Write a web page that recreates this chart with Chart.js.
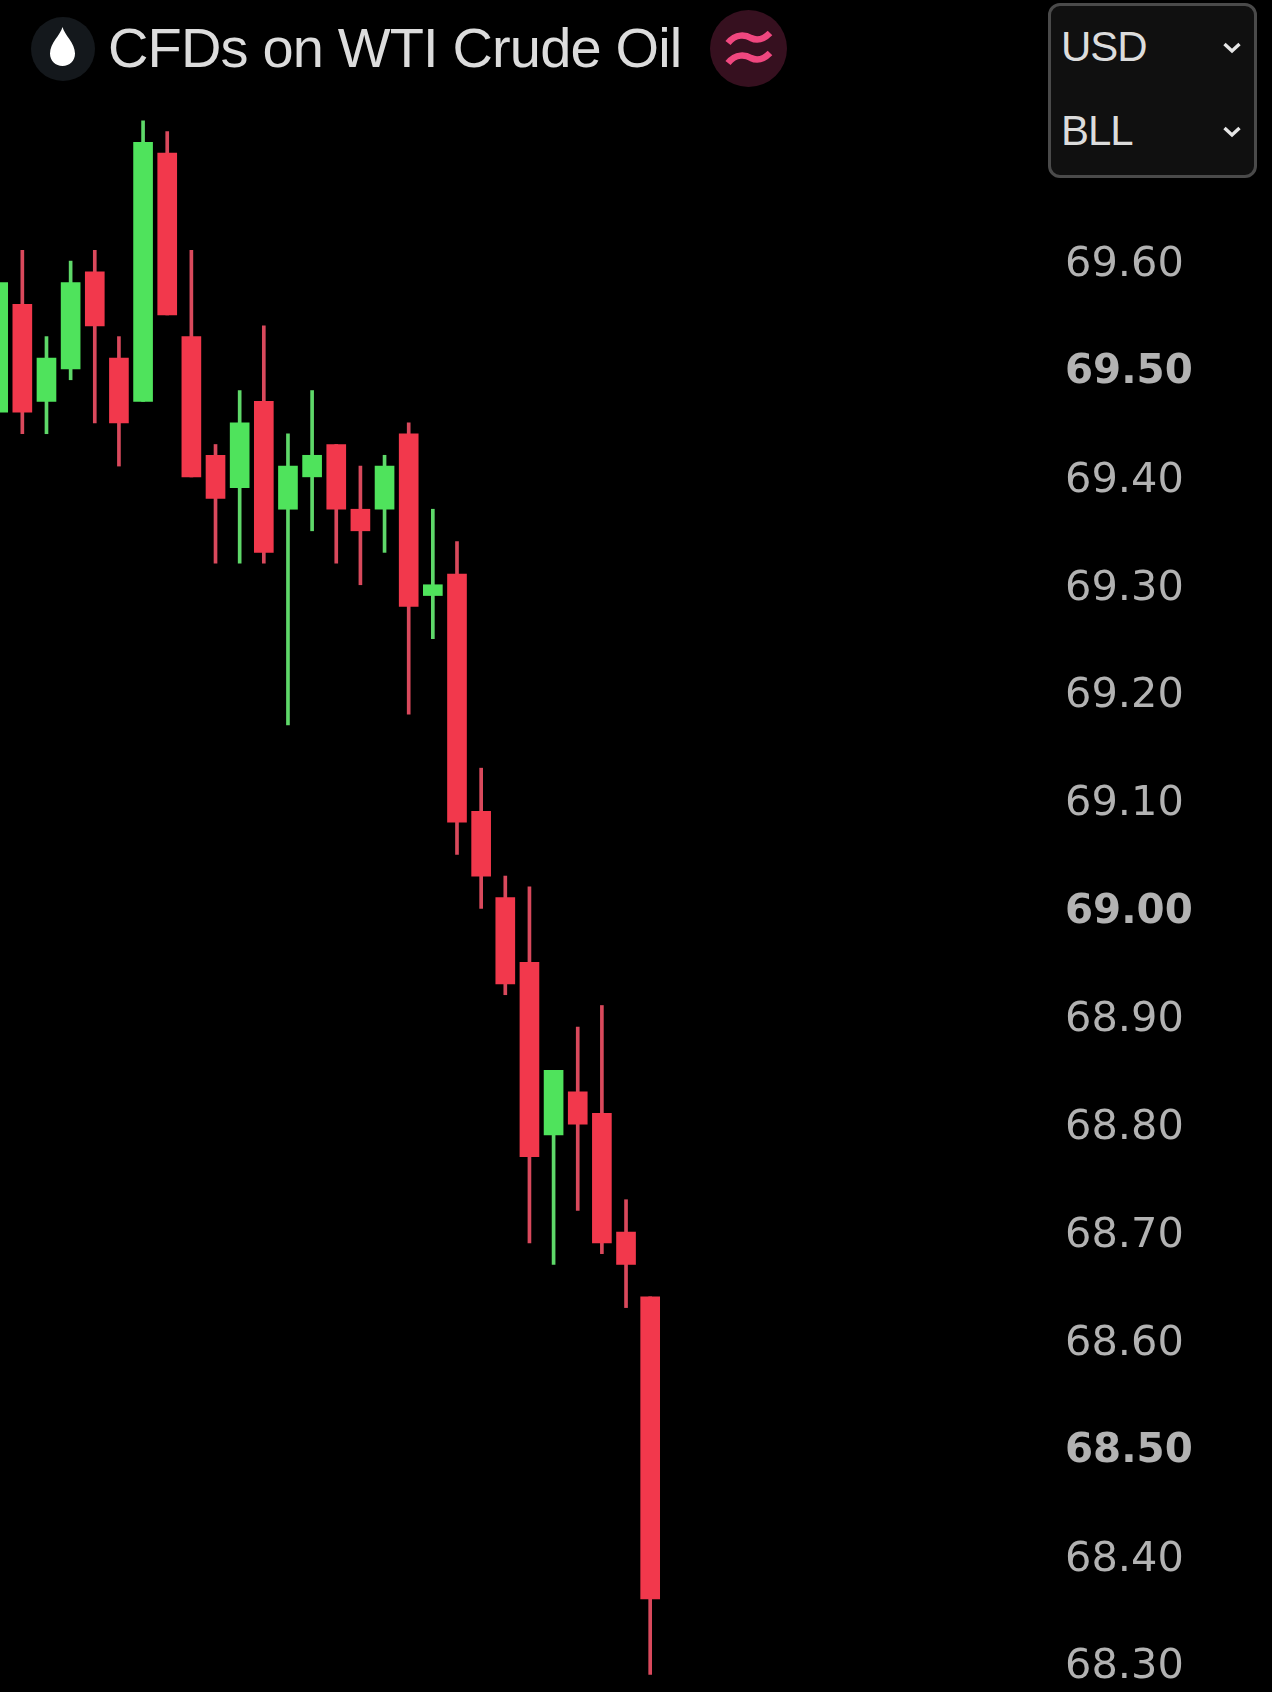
<!DOCTYPE html>
<html>
<head>
<meta charset="utf-8">
<script src="https://cdn.jsdelivr.net/npm/chart.js@4"></script>
<style>
  html, body { margin: 0; background: #000; }
  #wrap { position: relative; width: 1272px; height: 1692px; overflow: hidden; }
  #myChart { position: absolute; left: 0; top: 0; }
  .title { position: absolute; left: 108px; top: 14px; font: 56px/68px "Liberation Sans", sans-serif; letter-spacing: -0.85px; color: #dcdcdc; white-space: nowrap; }
  .icon { position: absolute; border-radius: 50%; }
  .menu { position: absolute; left: 1048px; top: 3px; width: 203px; height: 169px; background: #101010; border: 3px solid #4a4a4a; border-radius: 12px; }
  .menu span { position: absolute; left: 10px; font: 42px/50px "Liberation Sans", sans-serif; letter-spacing: -1px; color: #dcdcdc; }
  .menu svg { position: absolute; left: 171px; }
</style>
</head>
<body>
<div id="wrap">
  <canvas id="myChart" width="1272" height="1692"></canvas>

  <!-- header -->
  <div class="icon" style="left:31px;top:17px;width:64px;height:64px;background:#14181c"></div>
  <svg style="position:absolute;left:50px;top:27px" width="25" height="39" viewBox="0 0 25 39">
    <path d="M12.5 0 C14.5 8 25 16 25 26.5 C25 34 19.5 39 12.5 39 C5.5 39 0 34 0 26.5 C0 16 10.5 8 12.5 0Z" fill="#fff"/>
  </svg>
  <div class="title">CFDs on WTI Crude Oil</div>
  <div class="icon" style="left:710px;top:10px;width:77px;height:77px;background:#36101f"></div>
  <svg style="position:absolute;left:724px;top:28px" width="50" height="42" viewBox="0 0 50 42">
    <path d="M4 15 C12 5 22 7 27 10 C33 13 39 12 46 5 M4 35 C12 25 22 27 27 30 C33 33 39 32 46 25" fill="none" stroke="#f0477f" stroke-width="6.5"/>
  </svg>

  <!-- currency / unit selector -->
  <div class="menu">
    <span style="top:16px">USD</span>
    <svg style="top:35px" width="20" height="14" viewBox="0 0 20 14"><path d="M2.5 3 L10 10 L17.5 3" fill="none" stroke="#e6e6e6" stroke-width="3.4"/></svg>
    <span style="top:100px">BLL</span>
    <svg style="top:119px" width="20" height="14" viewBox="0 0 20 14"><path d="M2.5 3 L10 10 L17.5 3" fill="none" stroke="#e6e6e6" stroke-width="3.4"/></svg>
  </div>
</div>

<script>
// OHLC per candle, left to right
const opens  = [69.46, 69.56, 69.47, 69.50, 69.59, 69.51, 69.47, 69.70, 69.53, 69.42, 69.39, 69.47, 69.37, 69.40, 69.43, 69.37, 69.37, 69.44, 69.29, 69.31, 69.09, 69.01, 68.95, 68.79, 68.83, 68.81, 68.70, 68.64];
const highs  = [69.58, 69.61, 69.53, 69.60, 69.61, 69.53, 69.73, 69.72, 69.61, 69.43, 69.48, 69.54, 69.44, 69.48, 69.43, 69.41, 69.42, 69.45, 69.37, 69.34, 69.13, 69.03, 69.02, 68.85, 68.89, 68.91, 68.73, 68.64];
const lows   = [69.46, 69.44, 69.44, 69.49, 69.45, 69.41, 69.47, 69.55, 69.40, 69.32, 69.32, 69.32, 69.17, 69.35, 69.32, 69.30, 69.33, 69.18, 69.25, 69.05, 69.00, 68.92, 68.69, 68.67, 68.72, 68.68, 68.63, 68.29];
const closes = [69.58, 69.46, 69.51, 69.58, 69.54, 69.45, 69.71, 69.55, 69.40, 69.38, 69.45, 69.33, 69.41, 69.42, 69.37, 69.35, 69.41, 69.28, 69.30, 69.08, 69.03, 68.93, 68.77, 68.85, 68.80, 68.69, 68.67, 68.36];

const tickValues = [69.6, 69.5, 69.4, 69.3, 69.2, 69.1, 69.0, 68.9, 68.8, 68.7, 68.6, 68.5, 68.4, 68.3];
const boldTicks = [69.5, 69.0, 68.5];

const UP = '#4fe35c';
const DOWN = '#f2384c';
const UP_WICK = '#5ed869';
const DOWN_WICK = '#d9495c';

const upOrDown = (up, down) => opens.map((o, i) => closes[i] >= o ? up : down);

// floating bars: thin one for high-low, wide one for open-close
const wicks = highs.map((h, i) => ({ x: i, y: [lows[i], h] }));
const bodies = opens.map((o, i) => ({ x: i, y: [o, closes[i]] }));

const isBold = (ctx) => !!ctx.tick && boldTicks.includes(ctx.tick.value);

new Chart(document.getElementById('myChart'), {
  type: 'bar',
  data: {
    datasets: [
      { data: bodies, backgroundColor: upOrDown(UP, DOWN), barThickness: 19, grouped: false, order: 1 },
      { data: wicks, backgroundColor: upOrDown(UP_WICK, DOWN_WICK), barThickness: 3, grouped: false, order: 2 }
    ]
  },
  options: {
    responsive: false,
    animation: false,
    layout: { padding: 0 },
    plugins: { legend: { display: false }, tooltip: { enabled: false } },
    scales: {
      x: {
        type: 'linear',
        display: false,
        offset: false,
        min: 0.075,
        max: 43.64
      },
      y: {
        position: 'right',
        min: 68.2737,
        max: 69.842,
        grid: { display: false },
        border: { display: false },
        afterBuildTicks: (axis) => { axis.ticks = tickValues.map(v => ({ value: v })); },
        // keep the plot full height, labels may run past it
        afterFit: (axis) => { axis.width = 220; axis.paddingTop = 0; axis.paddingBottom = 0; },
        ticks: {
          autoSkip: false,
          padding: 5,
          labelOffset: 4,
          crossAlign: 'near',
          color: '#b2b2b2',
          font: (ctx) => ({
            family: '"DejaVu Sans"',
            size: isBold(ctx) ? 40.4 : 41.5,
            weight: isBold(ctx) ? 'bold' : 'normal'
          }),
          callback: (v) => Number(v).toFixed(2)
        }
      }
    }
  }
});
</script>
</body>
</html>
